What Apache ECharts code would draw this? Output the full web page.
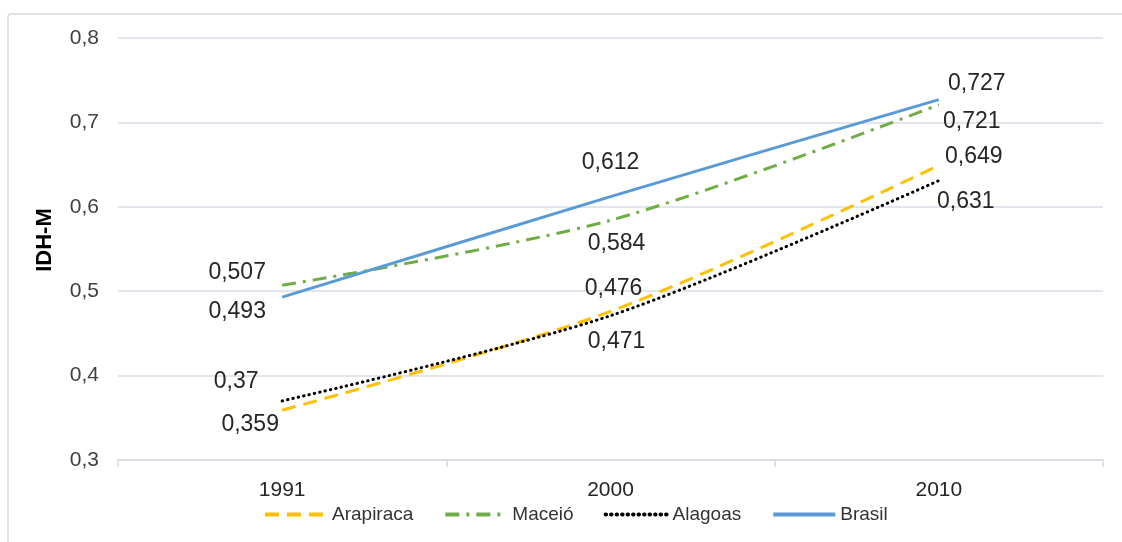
<!DOCTYPE html>
<html>
<head>
<meta charset="utf-8">
<script src="https://cdn.jsdelivr.net/npm/echarts@6/dist/echarts.min.js"></script>
<style>
  html, body { margin: 0; padding: 0; background: #ffffff; }
  #chart { width: 1122px; height: 542px; }
</style>
</head>
<body>
<div id="chart"></div>
<script>
// Years on the horizontal axis
const years = ['1991', '2000', '2010'];

// IDH-M values per territory
const arapiraca = [0.359, 0.476, 0.649];
const maceio    = [0.507, 0.584, 0.721];
const alagoas   = [0.37, 0.471, 0.631];
const brasil    = [0.493, 0.612, 0.727];

// Placement of each value label relative to its point (pixels)
const arapiracaOffsets = [[-32, 14], [3, -23], [35, -9]];
const maceioOffsets    = [[-45, -13], [6, 23], [33, 17]];
const alagoasOffsets   = [[-46, -19], [6, 26], [27, 21]];
const brasilOffsets    = [[-45, 15], [0, -34], [38, -16]];

const fmt = v => String(v).replace('.', ',');
const FONT = "'Liberation Sans', Arial, sans-serif";

function withLabels(values, offsets) {
  return values.map((v, i) => ({
    value: v,
    label: { offset: offsets[i] }
  }));
}

function lineSeries(name, values, offsets, color, type, cap) {
  return {
    name: name,
    type: 'line',
    data: withLabels(values, offsets),
    smooth: 0.3,
    symbol: 'circle',
    symbolSize: 0.1,
    showSymbol: true,
    itemStyle: { color: color, opacity: 0 },
    lineStyle: { color: color, width: 3, type: type, cap: cap || 'butt' },
    label: {
      show: true,
      position: 'inside',
      color: '#262626',
      fontSize: 23,
      fontFamily: FONT,
      opacity: 1,
      formatter: p => fmt(p.value)
    },
    emphasis: { disabled: true },
    z: 3
  };
}

const chart = echarts.init(document.getElementById('chart'), null, { renderer: 'canvas' });

chart.setOption({
  animation: false,
  backgroundColor: '#ffffff',
  graphic: [{
    type: 'rect',
    z: -1,
    shape: { x: 8, y: 14, width: 1200, height: 600, r: 3 },
    style: { fill: 'none', stroke: '#d9d9d9', lineWidth: 1.5 }
  }],
  grid: { left: 118, right: 19, top: 38, bottom: 82 },
  legend: {
    left: 258,
    top: 500,
    itemWidth: 62,
    itemHeight: 14,
    itemGap: 30,
    lineStyle: { width: 4 },
    textStyle: { fontSize: 19, color: '#333333', fontFamily: FONT },
    data: ['Arapiraca', 'Maceió', 'Alagoas', 'Brasil']
  },
  xAxis: {
    type: 'category',
    data: years,
    boundaryGap: true,
    axisLine: { lineStyle: { color: '#d9dce4', width: 1.5 } },
    axisTick: { show: true, length: 7, lineStyle: { color: '#d9dce4', width: 1.5 } },
    axisLabel: { fontSize: 21, color: '#262626', fontFamily: FONT, margin: 20 }
  },
  yAxis: {
    type: 'value',
    min: 0.3,
    max: 0.8,
    interval: 0.1,
    name: 'IDH-M',
    nameLocation: 'middle',
    nameGap: 62,
    nameRotate: 90,
    nameTextStyle: { fontSize: 22, fontWeight: 'bold', color: '#000000', fontFamily: FONT, padding: [0, 0, 0, 18] },
    axisLine: { show: false },
    axisTick: { show: false },
    axisLabel: {
      fontSize: 21, color: '#404040', fontFamily: FONT, margin: 19,
      formatter: v => fmt(Math.round(v * 10) / 10)
    },
    splitLine: { lineStyle: { color: '#d9dce4', width: 1.5 } }
  },
  series: [
    lineSeries('Arapiraca', arapiraca, arapiracaOffsets, '#FFC000', [14, 8]),
    lineSeries('Maceió', maceio, maceioOffsets, '#70AD47', [14, 7, 3, 7]),
    lineSeries('Alagoas', alagoas, alagoasOffsets, '#000000', [0.5, 5], 'round'),
    lineSeries('Brasil', brasil, brasilOffsets, '#5B9BD5', 'solid')
  ]
});
</script>
</body>
</html>
